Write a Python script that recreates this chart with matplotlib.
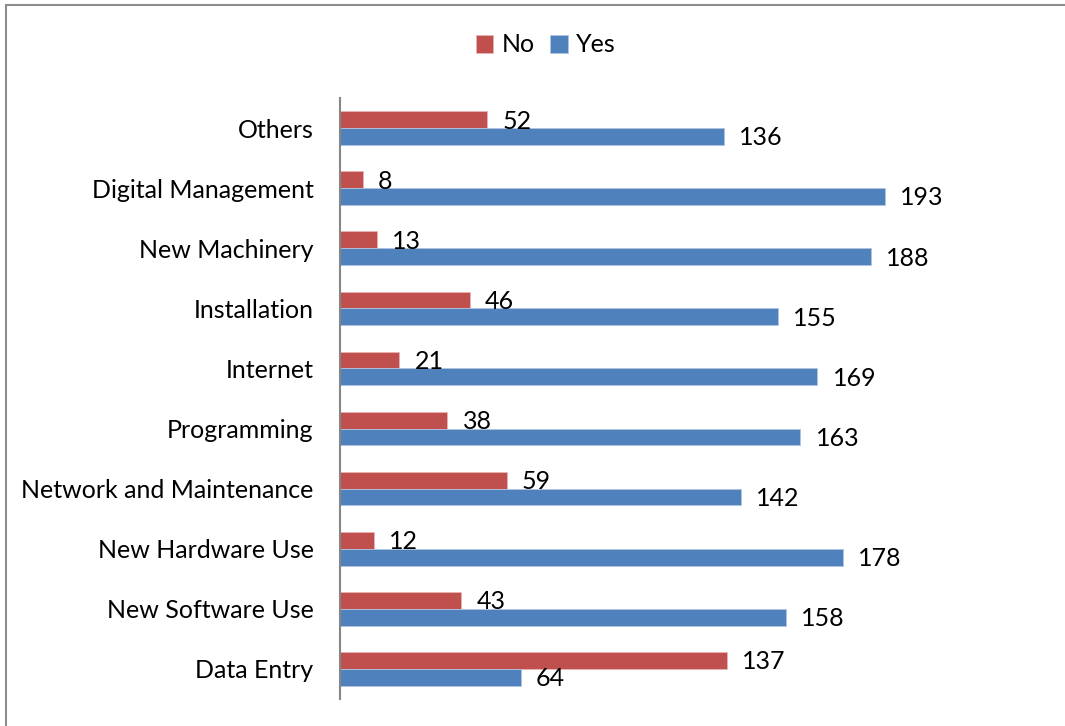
import numpy as np
import matplotlib.pyplot as plt
from matplotlib.patches import Rectangle

plt.rcParams['font.family'] = ['Lato', 'DejaVu Sans']

categories = ['Others', 'Digital Management', 'New Machinery', 'Installation',
              'Internet', 'Programming', 'Network and Maintenance',
              'New Hardware Use', 'New Software Use', 'Data Entry']
no_vals = [52, 8, 13, 46, 21, 38, 59, 12, 43, 137]
yes_vals = [136, 193, 188, 155, 169, 163, 142, 178, 158, 64]

RED = '#C0504D'
BLUE = '#4F81BD'
W, H = 1065, 726

fig = plt.figure(figsize=(W / 100, H / 100), dpi=100)
# axes placed in pixel units: zero line at x=340, plot from y=98 to y=699
xmax = 220
px_per_unit = 545 / 193
ax = fig.add_axes([340 / W, 1 - 699 / H, xmax * px_per_unit / W, 601 / H])

# outer frame line (top and left edges only visible)
fig.add_artist(Rectangle((6 / W, -0.1), 1.2, 1 - 5 / H + 0.1, transform=fig.transFigure,
                         fill=False, edgecolor='#8c8c8c', linewidth=1.5))

y = np.arange(len(categories))
h = 0.28
b_no = ax.barh(y - h / 2, no_vals, height=h, color=RED, edgecolor='#e8b4b3', linewidth=0.6, label='No')
b_yes = ax.barh(y + h / 2, yes_vals, height=h, color=BLUE, edgecolor='#b0c4e0', linewidth=0.6, label='Yes')

for bars, vals in ((b_no, no_vals), (b_yes, yes_vals)):
    for bar, v in zip(bars, vals):
        ax.annotate(str(v), (v, bar.get_y() + bar.get_height() / 2),
                    xytext=(11, -1), textcoords='offset points',
                    ha='left', va='center', fontsize=18, color='black')

ax.set_ylim(len(categories) - 0.5, -0.5)
ax.set_xlim(0, xmax)
ax.set_yticks(y)
ax.set_yticklabels(categories, fontsize=18)
ax.tick_params(axis='y', length=0, pad=19)
ax.set_xticks([])
for s in ('top', 'right', 'bottom'):
    ax.spines[s].set_visible(False)
ax.spines['left'].set_color('#868686')
ax.spines['left'].set_linewidth(1.5)

fig.legend(handles=[b_no, b_yes], labels=['No', 'Yes'], loc='center',
           bbox_to_anchor=(546 / W, 1 - 45 / H), ncol=2, frameon=False,
           fontsize=18, handlelength=0.7, handleheight=0.7, handletextpad=0.35,
           columnspacing=0.6)

fig.savefig('out.png', dpi=100)
